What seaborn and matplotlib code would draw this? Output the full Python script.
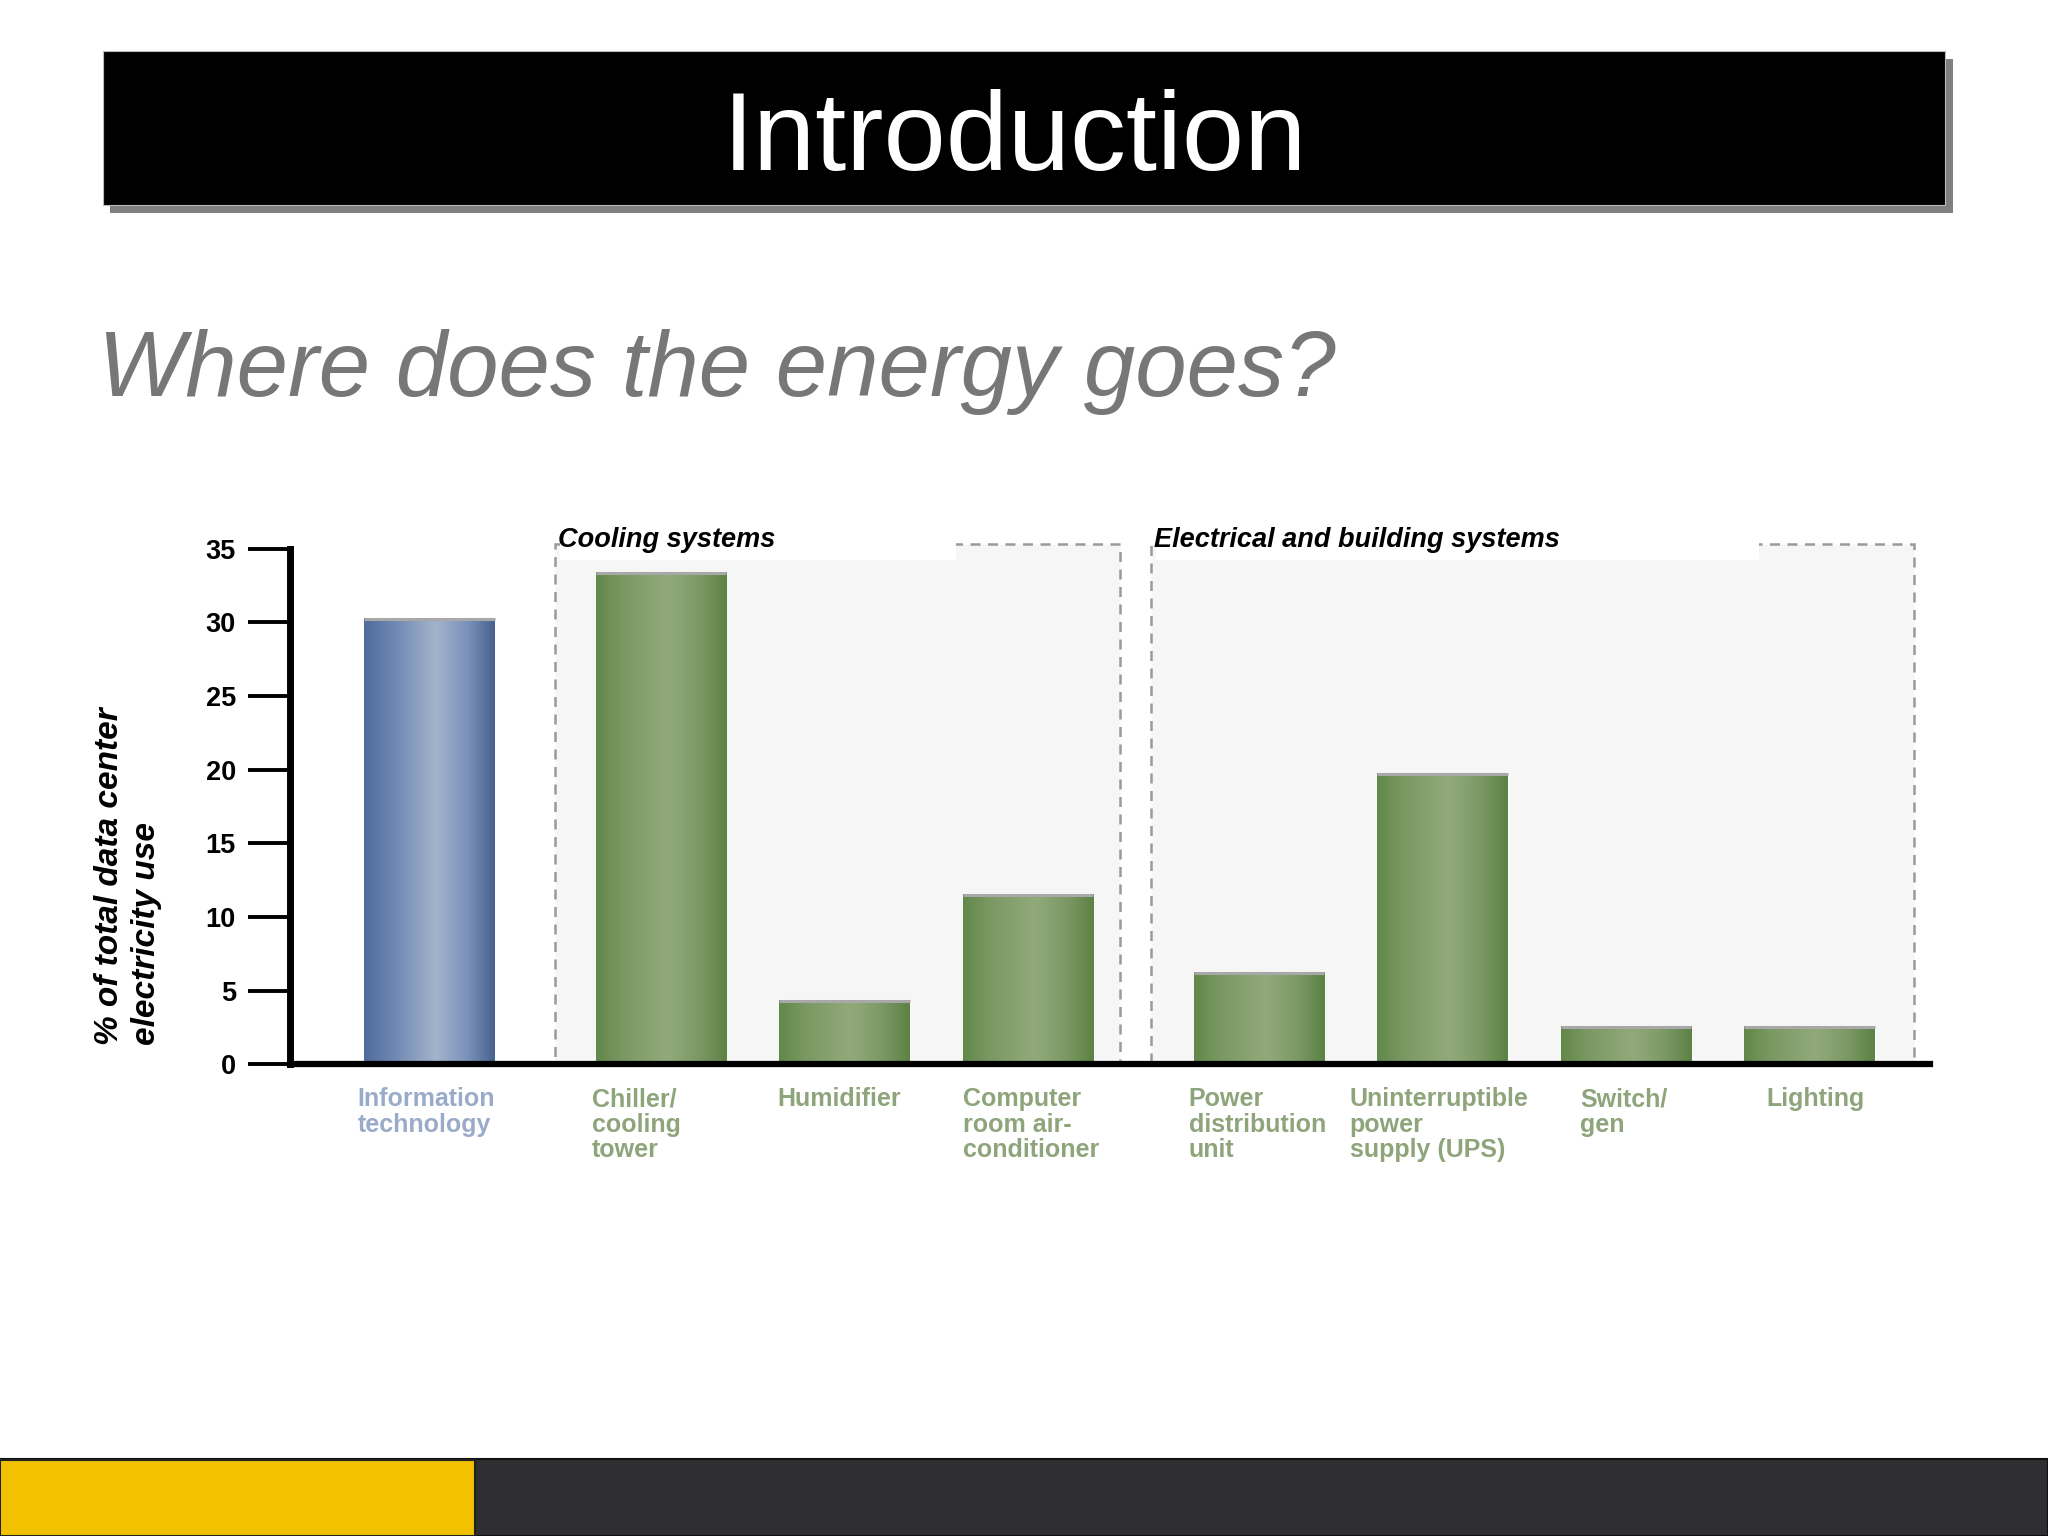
import numpy as np
import pandas as pd
import seaborn as sns
import matplotlib
matplotlib.use("Agg")
import matplotlib.pyplot as plt
from matplotlib.patches import Rectangle
from matplotlib.colors import LinearSegmentedColormap

# ---------------- data ----------------
categories = ["Information\ntechnology", "Chiller/\ncooling\ntower", "Humidifier",
              "Computer\nroom air-\nconditioner", "Power\ndistribution\nunit",
              "Uninterruptible\npower\nsupply (UPS)", "Switch/\ngen", "Lighting"]
values = [30.3, 33.4, 4.4, 11.6, 6.3, 19.8, 2.6, 2.6]
groups = ["IT", "Cooling", "Cooling", "Cooling", "Electrical", "Electrical", "Electrical", "Electrical"]
group_names = ["IT", "Cooling", "Electrical"]
group_titles = {"Cooling": "Cooling systems", "Electrical": "Electrical and building systems"}
y_ticks = [0, 5, 10, 15, 20, 25, 30, 35]
title = "Introduction"
subtitle = "Where does the energy goes?"
y_label = "% of total data center\nelectricity use"

# ---------------- style / layout ----------------
GROUP_GAP = 0.26
BAR_WIDTH = 0.712
label_offsets = [-0.036, -0.02, -0.007, 0.0, -0.028, -0.15, 0.107, 0.121]
box_pads = {"Cooling": (0.58, 0.5), "Electrical": (0.59, 0.57)}
white_frac = {"Cooling": 0.70, "Electrical": 0.79}
grad_colors = {
    "IT": [(0, '#4f6b9b'), (0.2, '#6a84b0'), (0.55, '#a3b3cd'), (0.8, '#7890b8'), (1, '#48628f')],
    "Cooling": [(0, '#62884a'), (0.2, '#7a9862'), (0.55, '#92aa7b'), (0.8, '#7b9864'), (1, '#5c8244')],
}
grad_colors["Electrical"] = grad_colors["Cooling"]
label_colors = {"IT": "#9aabc9", "Cooling": "#8ea47a", "Electrical": "#8ea47a"}

sns.set_theme(style="white")
plt.rcParams['font.family'] = ['Liberation Sans', 'DejaVu Sans']

fig = plt.figure(figsize=(20.48, 15.36), dpi=100)
fig.patch.set_facecolor("white")

# header bar with shadow
fig.patches.append(Rectangle((0.0537, 0.8613), 0.8999, 0.1004, transform=fig.transFigure,
                             facecolor="#808080", edgecolor="none", zorder=0))
fig.patches.append(Rectangle((0.0501, 0.8665), 0.8996, 0.1005, transform=fig.transFigure,
                             facecolor="black", edgecolor="#bbbbbb", lw=0.8, zorder=1))
fig.text(0.4956, 0.8895, title, color="white", fontsize=80.5, ha="center", va="baseline", zorder=2)
fig.text(0.0478, 0.742, subtitle, color="#777777", fontsize=66.5, style="italic",
         ha="left", va="baseline")

# footer
fig.patches.append(Rectangle((0, 0), 1, 0.0503, transform=fig.transFigure,
                             facecolor="#2f2e30", edgecolor="#111111", lw=1.5, zorder=0))
fig.patches.append(Rectangle((0, 0), 0.232, 0.0497, transform=fig.transFigure,
                             facecolor="#f2c200", edgecolor="#222222", lw=1.5, zorder=1))

# ---------------- chart ----------------
ax = fig.add_axes([0.1416, 0.307, 0.801, 0.3358])
ax.patch.set_alpha(0)

df = pd.DataFrame({"category": categories, "value": values, "group": groups})
gidx = df["group"].map({g: i for i, g in enumerate(group_names)})
df["pos"] = np.arange(len(df)) + GROUP_GAP * gidx

sns.barplot(data=df, x="pos", y="value", hue="group", hue_order=group_names,
            palette={"IT": "#7890b8", "Cooling": "#7b9864", "Electrical": "#7b9864"},
            native_scale=True, width=BAR_WIDTH, dodge=False, legend=False,
            saturation=1, ax=ax, zorder=2)

XMIN, XMAX = -0.762, 8.18
YMIN, YMAX = 0, 35
BOX_TOP = 35.35

# group boxes
for g in ["Cooling", "Electrical"]:
    sub = df[df["group"] == g]
    left = sub["pos"].min() - box_pads[g][0]
    right = sub["pos"].max() + box_pads[g][1]
    w = right - left
    ax.add_patch(Rectangle((left, 0), w, BOX_TOP, facecolor="#f6f6f6", edgecolor="#9a9a9a",
                           lw=1.8, linestyle=(0, (4, 3)), clip_on=False, zorder=0.3))
    ax.add_patch(Rectangle((left + 0.03, 34.2), white_frac[g] * w, 1.4, facecolor="white",
                           edgecolor="none", clip_on=False, zorder=0.35))
    ax.text(left + 0.02, 35.6, group_titles[g], fontsize=19.5, fontweight="bold",
            style="italic", color="black", ha="left", va="center", clip_on=False, zorder=3)

# gradient shading on bars
grad = np.linspace(0, 1, 256).reshape(1, -1)
for p in list(ax.patches):
    if p.get_zorder() != 2:
        continue
    x0 = p.get_x(); x1 = x0 + p.get_width(); h = p.get_height()
    if h <= 0:
        continue
    cx = x0 + p.get_width() / 2
    row = int(np.argmin(np.abs(df["pos"].values - cx)))
    cmap = LinearSegmentedColormap.from_list("g%d" % row, grad_colors[df["group"].iloc[row]])
    im = ax.imshow(grad, extent=[x0, x1, 0, h], aspect="auto", cmap=cmap,
                   interpolation="bicubic", zorder=2.1)
    im.set_clip_path(p)
    ax.plot([x0, x1], [h - 0.07, h - 0.07], color="#a8a8a8", lw=2.2, solid_capstyle="butt", zorder=2.2)

ax.set_xlim(XMIN, XMAX)
ax.set_ylim(YMIN, YMAX)
ax.set_aspect("auto")

# axes styling
for s in ["top", "right"]:
    ax.spines[s].set_visible(False)
ax.spines["left"].set_linewidth(5)
ax.spines["left"].set_color("black")
ax.spines["left"].set_capstyle("projecting")
ax.spines["bottom"].set_linewidth(4.5)
ax.spines["bottom"].set_color("black")
ax.spines["bottom"].set_capstyle("projecting")
ax.spines["left"].set_zorder(4)
ax.spines["bottom"].set_zorder(4)

ax.set_yticks(y_ticks)
ax.set_yticklabels([str(t) for t in y_ticks])
ax.tick_params(axis="y", left=True, length=30, width=2.8, pad=9, labelsize=19.5,
               direction="out", colors="black")
for lbl in ax.get_yticklabels():
    lbl.set_fontweight("bold")
ax.set_xticks([])
ax.set_xlabel("")
ax.set_ylabel("")

# category labels
for i, row in df.iterrows():
    ax.annotate(row["category"], xy=(row["pos"] - BAR_WIDTH / 2 + label_offsets[i], 0),
                xycoords="data", xytext=(0, -16.5), textcoords="offset points",
                ha="left", va="top", fontsize=18, fontweight="bold",
                color=label_colors[row["group"]], linespacing=1.07, annotation_clip=False)

fig.text(0.0625, 0.3195, y_label, rotation=90, ha="center", va="bottom",
         multialignment="left", fontsize=24, fontweight="bold", style="italic",
         color="black", linespacing=1.25)

fig.savefig("out.png", dpi=100)
